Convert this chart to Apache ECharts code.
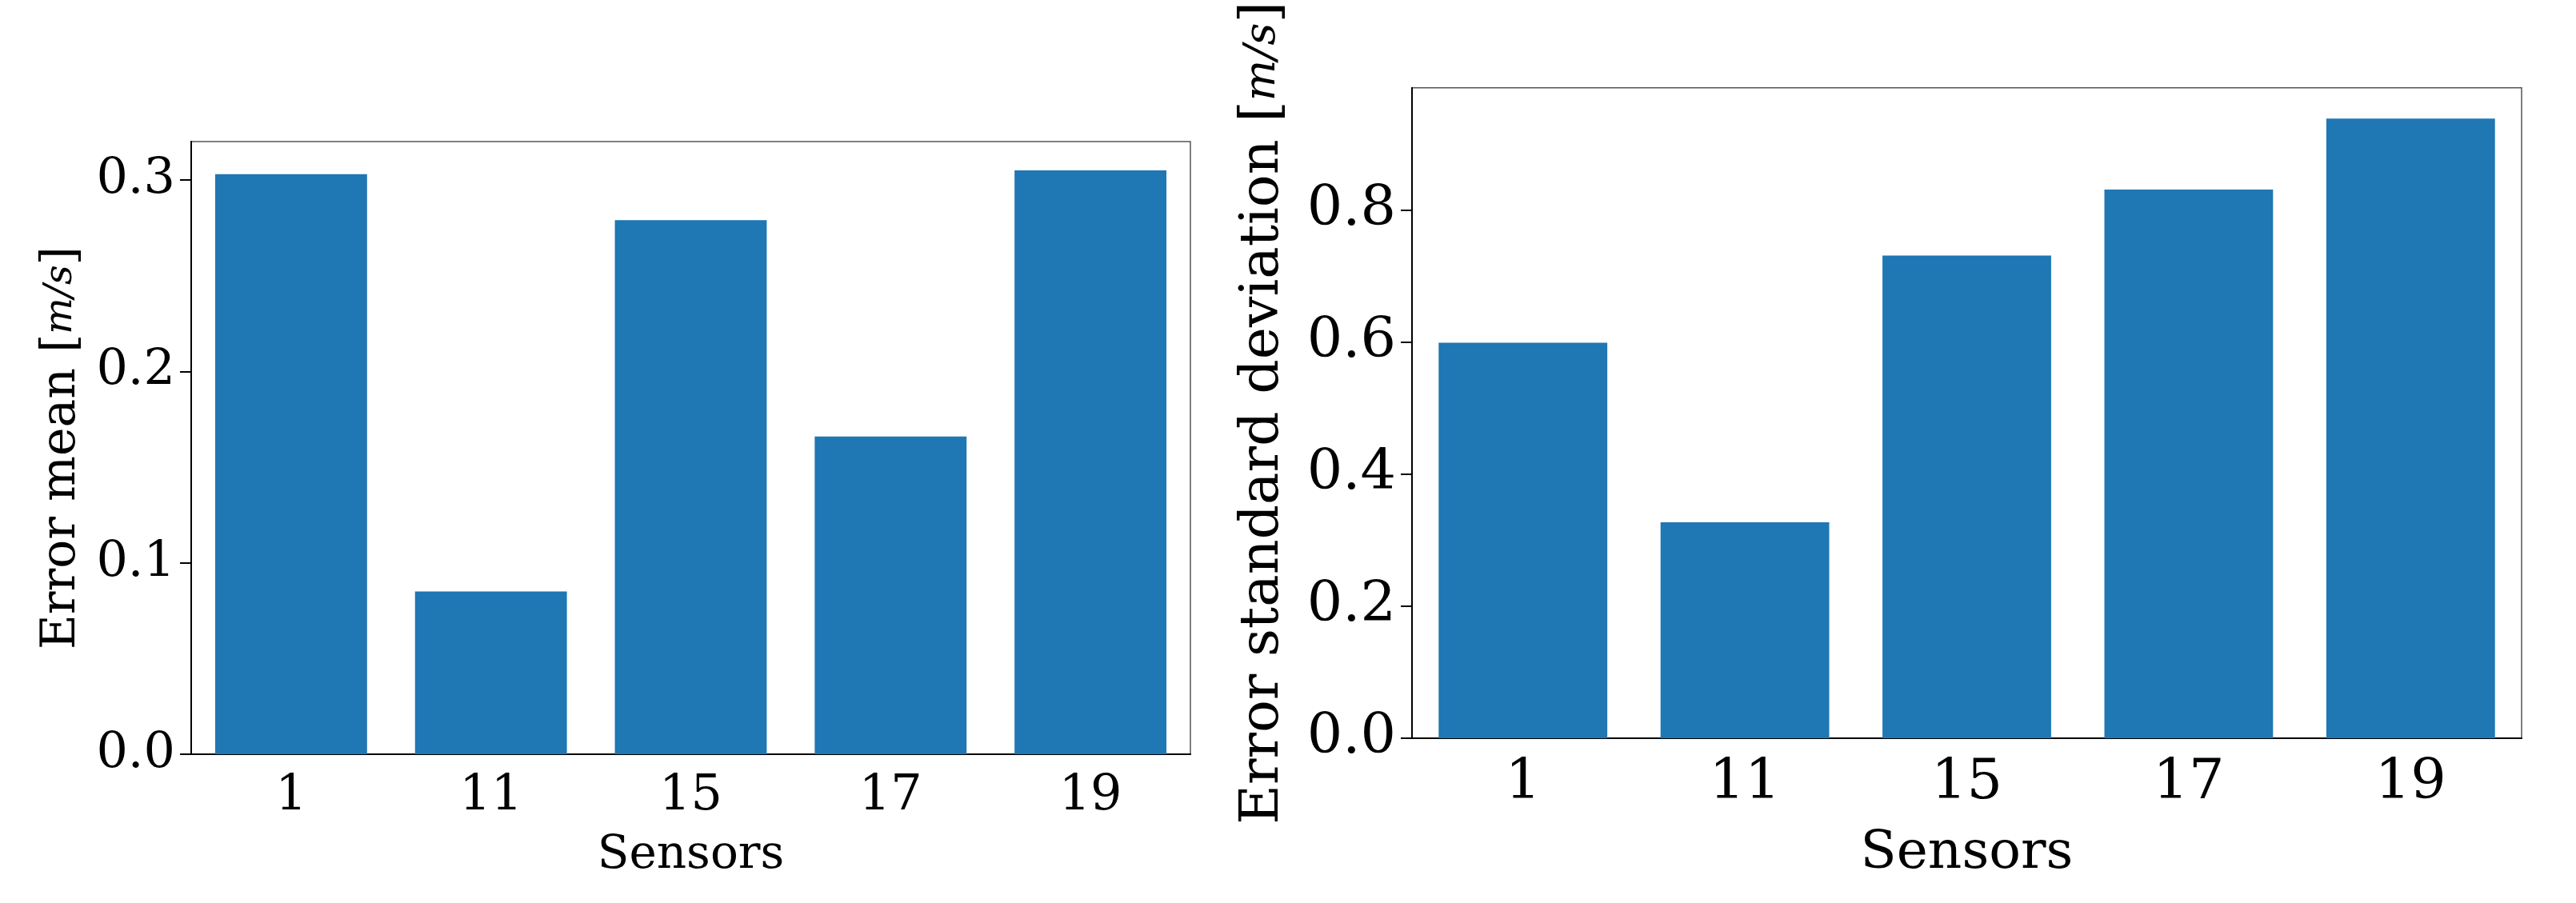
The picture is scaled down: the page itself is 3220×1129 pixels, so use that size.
<!DOCTYPE html>
<html>
<head>
<meta charset="utf-8">
<script src="https://cdn.jsdelivr.net/npm/echarts@6/dist/echarts.min.js"></script>
<style>html,body{margin:0;padding:0;background:#fff}#c{width:3220px;height:1129px}</style>
</head>
<body>
<div id="c"></div>
<script>
// sensors and the two error statistics
var sensors = ['1', '11', '15', '17', '19'];
var errMean = [0.303, 0.085, 0.279, 0.166, 0.305];
var errStd = [0.599, 0.327, 0.731, 0.831, 0.9385];

var FONT = '"DejaVu Serif", serif';
var BLUE = '#1f77b4';

function xAx(idx, fs, nfs, gap) {
	return {
		type: 'category', gridIndex: idx, data: sensors,
		name: 'Sensors', nameLocation: 'middle', nameGap: gap,
		nameTextStyle: {fontFamily: FONT, fontSize: nfs, color: '#000'},
		axisLine: {lineStyle: {color: '#000', width: 2}},
		axisTick: {alignWithLabel: true, length: 14, lineStyle: {color: '#000', width: 2}},
		axisLabel: {fontFamily: FONT, fontSize: fs, color: '#000', margin: 22}
	};
}
function yAx(idx, name, max, step, fs, nfs, gap) {
	return {
		type: 'value', gridIndex: idx, min: 0, max: max, interval: step,
		name: name, nameLocation: 'middle', nameGap: gap, nameRotate: 90,
		nameTextStyle: {fontFamily: FONT, fontSize: nfs, color: '#000',
			rich: {u: {fontFamily: FONT, fontSize: nfs * 0.8, fontStyle: 'italic', color: '#000'}}},
		axisLine: {show: true, lineStyle: {color: '#000', width: 2}},
		axisTick: {show: true, length: 14, lineStyle: {color: '#000', width: 2}},
		splitLine: {show: false},
		axisLabel: {fontFamily: FONT, fontSize: fs, color: '#000', margin: 20, showMaxLabel: false,
			formatter: function (v) { return v.toFixed(1); }}
	};
}

var chart = echarts.init(document.getElementById('c'));
chart.setOption({
	animation: false,
	grid: [
		{left: 239, right: 3220 - 1488, top: 177, bottom: 186, show: true, borderColor: '#555', borderWidth: 1.5},
		{left: 1765, right: 68, top: 70, bottom: 206, show: true, borderColor: '#555', borderWidth: 1.5}
	],
	xAxis: [xAx(0, 62, 58, 98), xAx(1, 70, 66, 112)],
	yAxis: [
		yAx(0, 'Error mean [{u|m/s}]', 0.32, 0.1, 62, 60, 132),
		yAx(1, 'Error standard deviation [{u|m/s}]', 0.985, 0.2, 70, 68, 152)
	],
	series: [
		{type: 'bar', xAxisIndex: 0, yAxisIndex: 0, data: errMean, barWidth: '76%', itemStyle: {color: BLUE}},
		{type: 'bar', xAxisIndex: 1, yAxisIndex: 1, data: errStd, barWidth: '76%', itemStyle: {color: BLUE}}
	]
});
</script>
</body>
</html>
